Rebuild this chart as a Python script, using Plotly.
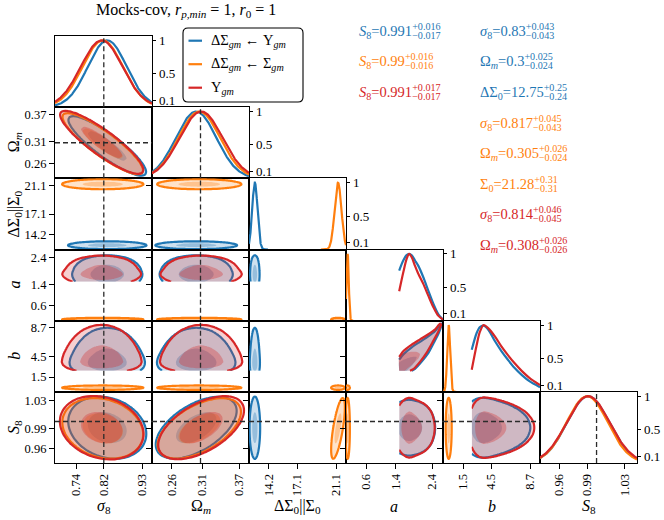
import numpy as np
import plotly.graph_objects as go

W, H = 664, 520
GX0, GX1, GY0, GY1 = 55.0, 637.0, 36.0, 463.0
NP = 6
PW = (GX1 - GX0) / NP
PH = (GY1 - GY0) / NP
FONT = "Liberation Serif"

# ---------------- data ----------------
PARAM_LABELS = ["<i>σ</i><sub>8</sub>", "Ω<sub><i>m</i></sub>",
                "ΔΣ<sub>0</sub>||Σ<sub>0</sub>", "<i>a</i>", "<i>b</i>", "<i>S</i><sub>8</sub>"]
PARAM_RANGES = [[0.6795, 0.9588], [0.228, 0.386], [12.15, 22.1],
                [0.055, 2.69], [-0.66, 9.74], [0.9396, 1.0432]]
TICK_VALUES = [[0.74, 0.82, 0.93], [0.26, 0.31, 0.37], [14.2, 17.1, 21.1],
               [0.6, 1.4, 2.4], [1.5, 4.5, 8.7], [0.96, 0.99, 1.03]]
TICK_LABELS = [["0.74", "0.82", "0.93"], ["0.26", "0.31", "0.37"], ["14.2", "17.1", "21.1"],
               ["0.6", "1.4", "2.4"], ["1.5", "4.5", "8.7"], ["0.96", "0.99", "1.03"]]
TRUTH = [0.82, 0.307, None, None, None, 1.0]
DIAG_RANGE = [0.0, 1.065]
DIAG_TICKS = [0.1, 0.5, 1.0]
DIAG_TICK_LABELS = ["0.1", "0.5", "1"]

SERIES_NAMES = ["ΔΣ<sub><i>gm</i></sub> ← Υ<sub><i>gm</i></sub>",
                "ΔΣ<sub><i>gm</i></sub> ← Σ<sub><i>gm</i></sub>",
                "Υ<sub><i>gm</i></sub>"]
SERIES_COLORS = ["#1f77b4", "#ff7f0e", "#d62728"]

# plotted posteriors (centre, width); None = parameter not in chain
SIG8_CENTRE = [0.830, 0.817, 0.814]
SIG8_WIDTH = [0.056, 0.058, 0.060]
OM_CENTRE = [0.300, 0.305, 0.308]
OM_WIDTH = [0.033, 0.034, 0.035]
DS0_CENTRE = [12.75, 21.28, None]
DS0_WIDTH = [0.27, 0.35, None]
A_CENTRE = [None, 0.10, None]
A_WIDTH = [None, 0.03, None]
B_CENTRE = [None, -0.05, None]
B_WIDTH = [None, 0.16, None]
S8_CENTRE = [0.991, 0.990, 0.991]
S8_WIDTH = [0.0225, 0.022, 0.023]

# skewed, prior-truncated 1D posteriors of a and b (peak = 1)
A_GRID = [1.50, 1.61, 1.70, 1.77, 1.84, 1.93, 2.02, 2.155, 2.29, 2.43, 2.56, 2.69]
A_BLUE = [0.75, 0.90, 0.98, 1.00, 0.98, 0.90, 0.82, 0.65, 0.45, 0.25, 0.10, 0.015]
A_RED = [0.44, 0.72, 0.92, 1.00, 0.95, 0.82, 0.70, 0.55, 0.375, 0.20, 0.075, 0.015]
B_GRID = [2.42, 2.95, 3.3, 3.7, 4.2, 4.9, 5.6, 6.3, 7.0, 7.8, 8.6, 9.74]
B_BLUE = [0.63, 0.88, 0.97, 0.99, 0.93, 0.76, 0.61, 0.48, 0.36, 0.25, 0.16, 0.07]
B_RED = [0.33, 0.70, 0.90, 1.00, 0.95, 0.83, 0.68, 0.55, 0.43, 0.31, 0.21, 0.10]

# correlations
RHO_SIG8_OM = -0.88
RHO_SIG8_S8 = -0.2
RHO_OM_S8 = 0.55
RHO_SIG0_S8_ORANGE = 0.7

# b-vs-a contours (outer 2-sigma, inner 1-sigma) for blue and red chains
AB_BLUE_OUTER_A = [1.50, 1.50, 1.62, 1.84, 2.065, 2.29, 2.47, 2.62, 2.66, 2.58, 2.44, 2.29, 2.10, 1.93, 1.84]
AB_BLUE_OUTER_B = [2.42, 4.05, 4.85, 5.85, 6.65, 7.45, 8.20, 9.15, 9.30, 8.00, 6.50, 5.00, 3.70, 2.70, 2.42]
AB_RED_OUTER_A = [1.50, 1.50, 1.61, 1.84, 2.065, 2.29, 2.47, 2.61, 2.636, 2.546, 2.40, 2.247, 2.065, 1.883, 1.794]
AB_RED_OUTER_B = [2.42, 4.44, 5.26, 6.23, 7.00, 7.76, 8.44, 9.31, 9.12, 7.96, 6.52, 5.07, 3.72, 2.66, 2.42]
AB_BLUE_INNER_A = [1.50, 1.50, 1.656, 1.84, 1.975, 1.93, 1.84, 1.73, 1.70]
AB_BLUE_INNER_B = [2.42, 3.63, 4.11, 4.44, 4.44, 3.82, 3.14, 2.52, 2.42]
AB_RED_INNER_A = [1.50, 1.50, 1.612, 1.794, 1.975, 2.065, 2.02, 1.883, 1.747, 1.656]
AB_RED_INNER_B = [2.42, 4.44, 4.93, 5.16, 5.16, 4.87, 4.20, 3.48, 2.85, 2.42]

# summary statistics printed on the figure
S8_MED = [0.991, 0.99, 0.991]
S8_UP = [0.016, 0.016, 0.017]
S8_LO = [0.017, 0.016, 0.017]
SIG8_MED = [0.83, 0.817, 0.814]
SIG8_UP = [0.043, 0.045, 0.046]
SIG8_LO = [0.043, 0.043, 0.045]
OM_MED = [0.3, 0.305, 0.308]
OM_UP = [0.025, 0.026, 0.026]
OM_LO = [0.024, 0.024, 0.026]
AMP_NAMES = ["ΔΣ<sub>0</sub>", "Σ<sub>0</sub>"]
AMP_MED = [12.75, 21.28]
AMP_UP = [0.25, 0.31]
AMP_LO = [0.24, 0.31]

TITLE = "Mocks-cov, <i>r</i><sub><i>p,min</i></sub> = 1, <i>r</i><sub>0</sub> = 1"

# ---------------- helpers ----------------
CENTRES = [SIG8_CENTRE, OM_CENTRE, DS0_CENTRE, A_CENTRE, B_CENTRE, S8_CENTRE]
WIDTHS = [SIG8_WIDTH, OM_WIDTH, DS0_WIDTH, A_WIDTH, B_WIDTH, S8_WIDTH]
TABLES = {(3, 0): (A_GRID, A_BLUE), (3, 2): (A_GRID, A_RED),
          (4, 0): (B_GRID, B_BLUE), (4, 2): (B_GRID, B_RED)}
AB_POLY = {0: (AB_BLUE_OUTER_A, AB_BLUE_OUTER_B, AB_BLUE_INNER_A, AB_BLUE_INNER_B),
           2: (AB_RED_OUTER_A, AB_RED_OUTER_B, AB_RED_INNER_A, AB_RED_INNER_B)}


def rgba(hexc, a):
    h = hexc.lstrip("#")
    return f"rgba({int(h[0:2],16)},{int(h[2:4],16)},{int(h[4:6],16)},{a})"


def has(p, d):
    return (p, d) in TABLES or CENTRES[p][d] is not None


def rho(p, q, d):
    pair = tuple(sorted((p, q)))
    if pair == (0, 1):
        return RHO_SIG8_OM
    if pair == (0, 5):
        return RHO_SIG8_S8
    if pair == (1, 5):
        return RHO_OM_S8
    if pair == (2, 5) and d == 1:
        return RHO_SIG0_S8_ORANGE
    return 0.0


def marginal(p, d, n):
    if (p, d) in TABLES:
        gx, gv = TABLES[(p, d)]
        g = np.linspace(gx[0], gx[-1], n)
        return g, np.interp(g, gx, gv), None
    c, w = CENTRES[p][d], WIDTHS[p][d]
    g = np.linspace(c - 4.5 * w, c + 4.5 * w, n)
    return g, np.exp(-0.5 * ((g - c) / w) ** 2), (c, w)


def density2d(px, py, d, n=60):
    gx, vx, sx = marginal(px, d, n)
    gy, vy, sy = marginal(py, d, n)
    r = rho(px, py, d)
    if sx is not None and sy is not None and r != 0.0:
        zx = (gx - sx[0]) / sx[1]
        zy = (gy - sy[0]) / sy[1]
        ZX, ZY = np.meshgrid(zx, zy)
        Z = np.exp(-0.5 * (ZX ** 2 - 2 * r * ZX * ZY + ZY ** 2) / (1 - r ** 2))
    else:
        Z = np.outer(vy, vx)
    Z = Z / Z.max()
    return gx, gy, Z


def hpd_levels(Z, fracs):
    s = np.sort(Z.ravel())[::-1]
    c = np.cumsum(s)
    c = c / c[-1]
    return [float(s[min(np.searchsorted(c, f), len(s) - 1)]) for f in fracs]


def ax_names(k):
    return ("x" if k == 1 else f"x{k}"), ("y" if k == 1 else f"y{k}")


fig = go.Figure()
layout_axes = {}
axis_id = {}
k = 0
tickfont = dict(family=FONT, size=12.5, color="black")
for i in range(NP):
    for j in range(i + 1):
        k += 1
        axis_id[(i, j)] = k
        xd = [(GX0 + j * PW) / W, (GX0 + (j + 1) * PW) / W]
        yd = [1 - (GY0 + (i + 1) * PH) / H, 1 - (GY0 + i * PH) / H]
        xn, yn = ax_names(k)
        xa = dict(domain=xd, anchor=yn, range=PARAM_RANGES[j], showgrid=False, zeroline=False,
                  showline=True, mirror=True, linecolor="black", linewidth=1.2,
                  ticks="", showticklabels=False, fixedrange=True)
        if i == NP - 1:
            xa.update(ticks="outside", ticklen=5, tickwidth=1.1, tickcolor="black",
                      tickmode="array", tickvals=TICK_VALUES[j], ticktext=TICK_LABELS[j],
                      showticklabels=True, tickangle=-90, tickfont=tickfont)
        if i == j:
            ya = dict(domain=yd, anchor=xn, range=DIAG_RANGE, side="right", showgrid=False,
                      zeroline=False, showline=True, mirror=True, linecolor="black", linewidth=1.2,
                      ticks="outside", ticklen=3, tickwidth=1.1, tickcolor="black",
                      tickmode="array", tickvals=DIAG_TICKS,
                      showticklabels=False, fixedrange=True)
        else:
            ya = dict(domain=yd, anchor=xn, range=PARAM_RANGES[i], showgrid=False, zeroline=False,
                      showline=True, mirror=True, linecolor="black", linewidth=1.2,
                      ticks="outside", ticklen=5, tickwidth=1.1, tickcolor="black",
                      tickmode="array", tickvals=TICK_VALUES[i], ticktext=TICK_LABELS[i],
                      showticklabels=(j == 0), tickfont=tickfont, fixedrange=True)
        layout_axes["xaxis" if k == 1 else f"xaxis{k}"] = xa
        layout_axes["yaxis" if k == 1 else f"yaxis{k}"] = ya

# plotly shades the region that fails the constraint, so "<" fills the inside
OP_FILL = "<"

# ---- 2D panels ----
for i in range(NP):
    for j in range(i):
        xn, yn = ax_names(axis_id[(i, j)])
        for d in range(3):
            if not (has(i, d) and has(j, d)):
                continue
            col = SERIES_COLORS[d]
            if (i, j) == (4, 3) and d in AB_POLY:
                oa, ob, ia, ib = AB_POLY[d]
                fig.add_trace(go.Scatter(x=oa, y=ob, xaxis=xn, yaxis=yn, mode="lines",
                                         fill="toself", fillcolor=rgba(col, 0.22),
                                         line=dict(width=0, shape="spline", smoothing=0.6),
                                         hoverinfo="skip", showlegend=False))
                fig.add_trace(go.Scatter(x=ia, y=ib, xaxis=xn, yaxis=yn, mode="lines",
                                         fill="toself", fillcolor=rgba(col, 0.32),
                                         line=dict(width=0, shape="spline", smoothing=0.6),
                                         hoverinfo="skip", showlegend=False))
                fig.add_trace(go.Scatter(x=oa[1:], y=ob[1:], xaxis=xn, yaxis=yn, mode="lines",
                                         line=dict(color=col, width=2.2, shape="spline", smoothing=0.6),
                                         hoverinfo="skip", showlegend=False))
                continue
            gx, gy, Z = density2d(j, i, d)
            l86, l39 = hpd_levels(Z, [0.865, 0.393])
            Zr = np.round(Z, 5)
            fig.add_trace(go.Contour(x=np.round(gx, 5), y=np.round(gy, 5), z=Zr, xaxis=xn, yaxis=yn,
                                     showscale=False, hoverinfo="skip", showlegend=False,
                                     contours=dict(type="constraint", operation=OP_FILL, value=l86),
                                     fillcolor=rgba(col, 0.22), line=dict(color=col, width=2.2)))
            fig.add_trace(go.Contour(x=np.round(gx, 5), y=np.round(gy, 5), z=Zr, xaxis=xn, yaxis=yn,
                                     showscale=False, hoverinfo="skip", showlegend=False,
                                     contours=dict(type="constraint", operation=OP_FILL, value=l39),
                                     fillcolor=rgba(col, 0.32), line=dict(color=col, width=0)))

# ---- 1D panels ----
for p in range(NP):
    xn, yn = ax_names(axis_id[(p, p)])
    for d in range(3):
        if not has(p, d):
            continue
        col = SERIES_COLORS[d]
        if (p, d) in TABLES:
            gx, gv = TABLES[(p, d)]
            fig.add_trace(go.Scatter(x=gx, y=gv, xaxis=xn, yaxis=yn, mode="lines",
                                     line=dict(color=col, width=2.2, shape="spline", smoothing=0.8),
                                     hoverinfo="skip", showlegend=False))
        else:
            c, w = CENTRES[p][d], WIDTHS[p][d]
            lo = max(PARAM_RANGES[p][0], c - 5 * w)
            hi = min(PARAM_RANGES[p][1], c + 5 * w)
            g = np.linspace(lo, hi, 240)
            fig.add_trace(go.Scatter(x=np.round(g, 5), y=np.round(np.exp(-0.5 * ((g - c) / w) ** 2), 5),
                                     xaxis=xn, yaxis=yn, mode="lines",
                                     line=dict(color=col, width=2.2),
                                     hoverinfo="skip", showlegend=False))

# ---- truth lines ----
shapes = []
DASH = dict(color="#2b2b2b", width=1.3, dash="5px,3px")
for j in range(NP):
    if TRUTH[j] is None:
        continue
    for i in range(j, NP):
        xn, yn = ax_names(axis_id[(i, j)])
        shapes.append(dict(type="line", xref=xn, yref=f"{yn} domain", x0=TRUTH[j], x1=TRUTH[j],
                           y0=0, y1=1, line=DASH))
for i in range(NP):
    if TRUTH[i] is None:
        continue
    for j in range(i):
        xn, yn = ax_names(axis_id[(i, j)])
        shapes.append(dict(type="line", xref=f"{xn} domain", yref=yn, x0=0, x1=1,
                           y0=TRUTH[i], y1=TRUTH[i], line=DASH))

annotations = []
# diagonal tick labels (right side, close to the axis)
for p in range(NP):
    xn, yn = ax_names(axis_id[(p, p)])
    for v, t in zip(DIAG_TICKS, DIAG_TICK_LABELS):
        annotations.append(dict(xref="paper", yref=yn, x=(GX0 + (p + 1) * PW + 4.5) / W, y=v,
                                xanchor="left", yanchor="middle", showarrow=False, text=t,
                                font=dict(family=FONT, size=13, color="black")))


# ---- legend (manual, rounded box) ----
def P(x, y):
    return f"{x / W:.5f},{1 - y / H:.5f}"


bx0, by0, bx1, by1, rr = 183, 28, 303, 102, 5
box_path = (f"M {P(bx0 + rr, by0)} L {P(bx1 - rr, by0)} Q {P(bx1, by0)} {P(bx1, by0 + rr)} "
            f"L {P(bx1, by1 - rr)} Q {P(bx1, by1)} {P(bx1 - rr, by1)} L {P(bx0 + rr, by1)} "
            f"Q {P(bx0, by1)} {P(bx0, by1 - rr)} L {P(bx0, by0 + rr)} Q {P(bx0, by0)} {P(bx0 + rr, by0)} Z")
shapes.append(dict(type="path", xref="paper", yref="paper", path=box_path,
                   line=dict(color="black", width=1.1), fillcolor="white"))
for d in range(3):
    yy = 40.7 + d * 23.5
    shapes.append(dict(type="line", xref="paper", yref="paper", x0=188.5 / W, x1=202 / W,
                       y0=1 - yy / H, y1=1 - yy / H, line=dict(color=SERIES_COLORS[d], width=2.2)))
    annotations.append(dict(xref="paper", yref="paper", x=209 / W, y=1 - yy / H, xanchor="left",
                            yanchor="middle", showarrow=False, text=SERIES_NAMES[d],
                            font=dict(family=FONT, size=14.5, color="black")))

# ---- axis titles ----
for j in range(NP):
    annotations.append(dict(xref="paper", yref="paper", x=(GX0 + (j + 0.5) * PW) / W, y=1 - 506 / H,
                            xanchor="center", yanchor="middle", showarrow=False, text=PARAM_LABELS[j],
                            font=dict(family=FONT, size=16, color="black")))
for i in range(1, NP):
    annotations.append(dict(xref="paper", yref="paper", x=14.5 / W, y=1 - (GY0 + (i + 0.5) * PH) / H,
                            xanchor="center", yanchor="middle", showarrow=False, text=PARAM_LABELS[i],
                            textangle=-90, font=dict(family=FONT, size=16, color="black")))

annotations.append(dict(xref="paper", yref="paper", x=186 / W, y=1 - 10 / H, xanchor="center",
                        yanchor="middle", showarrow=False, text=TITLE,
                        font=dict(family=FONT, size=16, color="black")))

# ---- summary statistics ----
TR = "rgba(0,0,0,0)"


def stat(xpx, ypx, main, up, lo, color):
    t1 = f"{main}<sup>+{up:g}</sup><span style='color:{TR}'><sub>−{lo:g}</sub></span>"
    t2 = (f"<span style='color:{TR}'>{main}</span><sub>−{lo:g}</sub>"
          f"<span style='color:{TR}'><sup>+{up:g}</sup></span>")
    for t in (t1, t2):
        annotations.append(dict(xref="paper", yref="paper", x=xpx / W, y=1 - ypx / H, xanchor="left",
                                yanchor="middle", showarrow=False, text=t,
                                font=dict(family=FONT, size=14.5, color=color)))


ROW0, DROW = 30.7, 30.6
for d in range(3):
    stat(357, ROW0 + d * DROW, f"<i>S</i><sub>8</sub>={S8_MED[d]:g}", S8_UP[d], S8_LO[d], SERIES_COLORS[d])
rowk = 0
for d in range(3):
    stat(478, ROW0 + rowk * DROW, f"<i>σ</i><sub>8</sub>={SIG8_MED[d]:g}", SIG8_UP[d], SIG8_LO[d], SERIES_COLORS[d])
    rowk += 1
    stat(478, ROW0 + rowk * DROW, f"Ω<sub><i>m</i></sub>={OM_MED[d]:g}", OM_UP[d], OM_LO[d], SERIES_COLORS[d])
    rowk += 1
    if d < 2:
        stat(478, ROW0 + rowk * DROW, f"{AMP_NAMES[d]}={AMP_MED[d]:g}", AMP_UP[d], AMP_LO[d], SERIES_COLORS[d])
        rowk += 1

fig.update_layout(width=W, height=H, margin=dict(l=0, r=0, t=0, b=0),
                  paper_bgcolor="white", plot_bgcolor="white", showlegend=False,
                  shapes=shapes, annotations=annotations, font=dict(family=FONT, color="black"),
                  **layout_axes)
fig.write_html("out.html", config={"displayModeBar": False},
               post_script="document.body.style.margin='0px';document.body.style.overflow='hidden';")
